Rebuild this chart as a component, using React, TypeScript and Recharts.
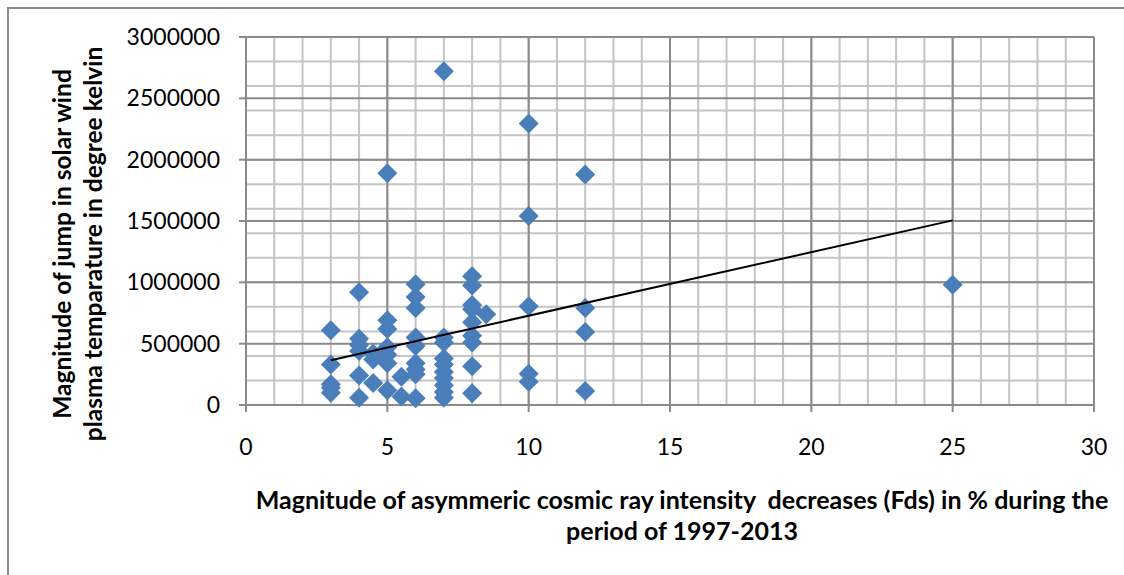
import { ScatterChart, Scatter, XAxis, YAxis, CartesianGrid } from "recharts";

// Fd magnitude (%) and matching jump in plasma temperature (K)
const fds = [
  3, 3, 3, 3, 3,
  4, 4, 4, 4, 4, 4,
  4.5, 4.5, 4.5,
  5, 5, 5, 5, 5, 5, 5,
  5.5, 5.5,
  6, 6, 6, 6, 6, 6, 6, 6, 6,
  7, 7, 7, 7, 7, 7, 7, 7, 7, 7,
  8, 8, 8, 8, 8, 8, 8, 8, 8,
  8.5,
  10, 10, 10, 10, 10,
  12, 12, 12, 12,
  25,
];
const tempJumps = [
  610000, 330000, 170000, 140000, 100000,
  920000, 540000, 490000, 440000, 240000, 60000,
  420000, 370000, 180000,
  1890000, 690000, 620000, 470000, 410000, 340000, 120000,
  230000, 70000,
  985000, 880000, 790000, 550000, 480000, 340000, 290000, 250000, 55000,
  2720000, 550000, 510000, 380000, 330000, 270000, 220000, 160000, 105000, 60000,
  1050000, 975000, 815000, 780000, 675000, 565000, 510000, 315000, 95000,
  740000,
  2295000, 1540000, 805000, 255000, 190000,
  1880000, 790000, 595000, 115000,
  980000,
];

// linear trendline end points as drawn
const trendX = [3, 25];
const trendY = [365000, 1505000];

const xTicks = [0, 5, 10, 15, 20, 25, 30];
const yTicks = [0, 500000, 1000000, 1500000, 2000000, 2500000, 3000000];
const xMinor = Array.from({ length: 31 }, (_, i) => i);
const yMinor = Array.from({ length: 31 }, (_, i) => i * 100000);

const points = fds.map((x, i) => ({ x, y: tempJumps[i] }));
const trend = trendX.map((x, i) => ({ x, y: trendY[i] }));

const FONT = "Lato, 'Open Sans', sans-serif";

const Diamond = (props: any) => {
  const { cx, cy } = props;
  if (cx == null || cy == null) return <g />;
  const r = 10;
  return (
    <polygon
      points={`${cx},${cy - r} ${cx + r},${cy} ${cx},${cy + r} ${cx - r},${cy}`}
      fill="#4a7ebb"
    />
  );
};

const YTitle = () => (
  <g transform="translate(0, 244) rotate(-90)">
    <text x={0} y={71} textAnchor="middle" fontSize={24.5} fontWeight="bold" fill="#000" fontFamily={FONT}>
      Magnitude of jump in solar wind
    </text>
    <text x={0} y={102} textAnchor="middle" fontSize={24.5} fontWeight="bold" fill="#000" fontFamily={FONT}>
      plasma temparature in degree kelvin
    </text>
  </g>
);

export default function App() {
  return (
    <div style={{ position: "absolute", left: 0, top: 0, width: 1124, height: 575, background: "#fff" }}>
      <div
        style={{
          position: "absolute",
          left: 7,
          top: 7,
          right: 0,
          bottom: 0,
          borderTop: "2px solid #8c8c8c",
          borderLeft: "2px solid #8c8c8c",
        }}
      />
      <ScatterChart width={1124} height={575} margin={{ top: 37, right: 30, left: 0, bottom: 0 }}>
        <CartesianGrid
          stroke="#c4c4c4"
          strokeWidth={2}
          verticalValues={xMinor}
          horizontalValues={yMinor}
        />
        <CartesianGrid
          stroke="#8a8a8a"
          strokeWidth={2}
          verticalValues={xTicks}
          horizontalValues={yTicks}
        />
        <XAxis
          type="number"
          dataKey="x"
          domain={[0, 30]}
          ticks={xTicks}
          height={170}
          tickSize={7}
          tickMargin={27}
          stroke="#8a8a8a"
          strokeWidth={2}
          tick={{ fill: "#000", fontSize: 23, fontFamily: FONT }}
          label={
            <text>
              <tspan x={682} y={509} textAnchor="middle" fontSize={25} fontWeight="bold" fontFamily={FONT} fill="#000" style={{ whiteSpace: "pre" }}>
                Magnitude of asymmeric cosmic ray intensity  decreases (Fds) in % during the
              </tspan>
              <tspan x={682} y={540} textAnchor="middle" fontSize={25} fontWeight="bold" fontFamily={FONT} fill="#000">
                period of 1997-2013
              </tspan>
            </text>
          }
        />
        <YAxis
          type="number"
          dataKey="y"
          domain={[0, 3000000]}
          ticks={yTicks}
          width={246}
          tickSize={7}
          tickMargin={19}
          stroke="#8a8a8a"
          strokeWidth={2}
          tick={{ fill: "#000", fontSize: 23, fontFamily: FONT }}
          label={<YTitle />}
        />
        <Scatter data={points} shape={<Diamond />} isAnimationActive={false} />
        <Scatter
          data={trend}
          line={{ stroke: "#000", strokeWidth: 2 }}
          shape={() => <g />}
          isAnimationActive={false}
        />
      </ScatterChart>
    </div>
  );
}
